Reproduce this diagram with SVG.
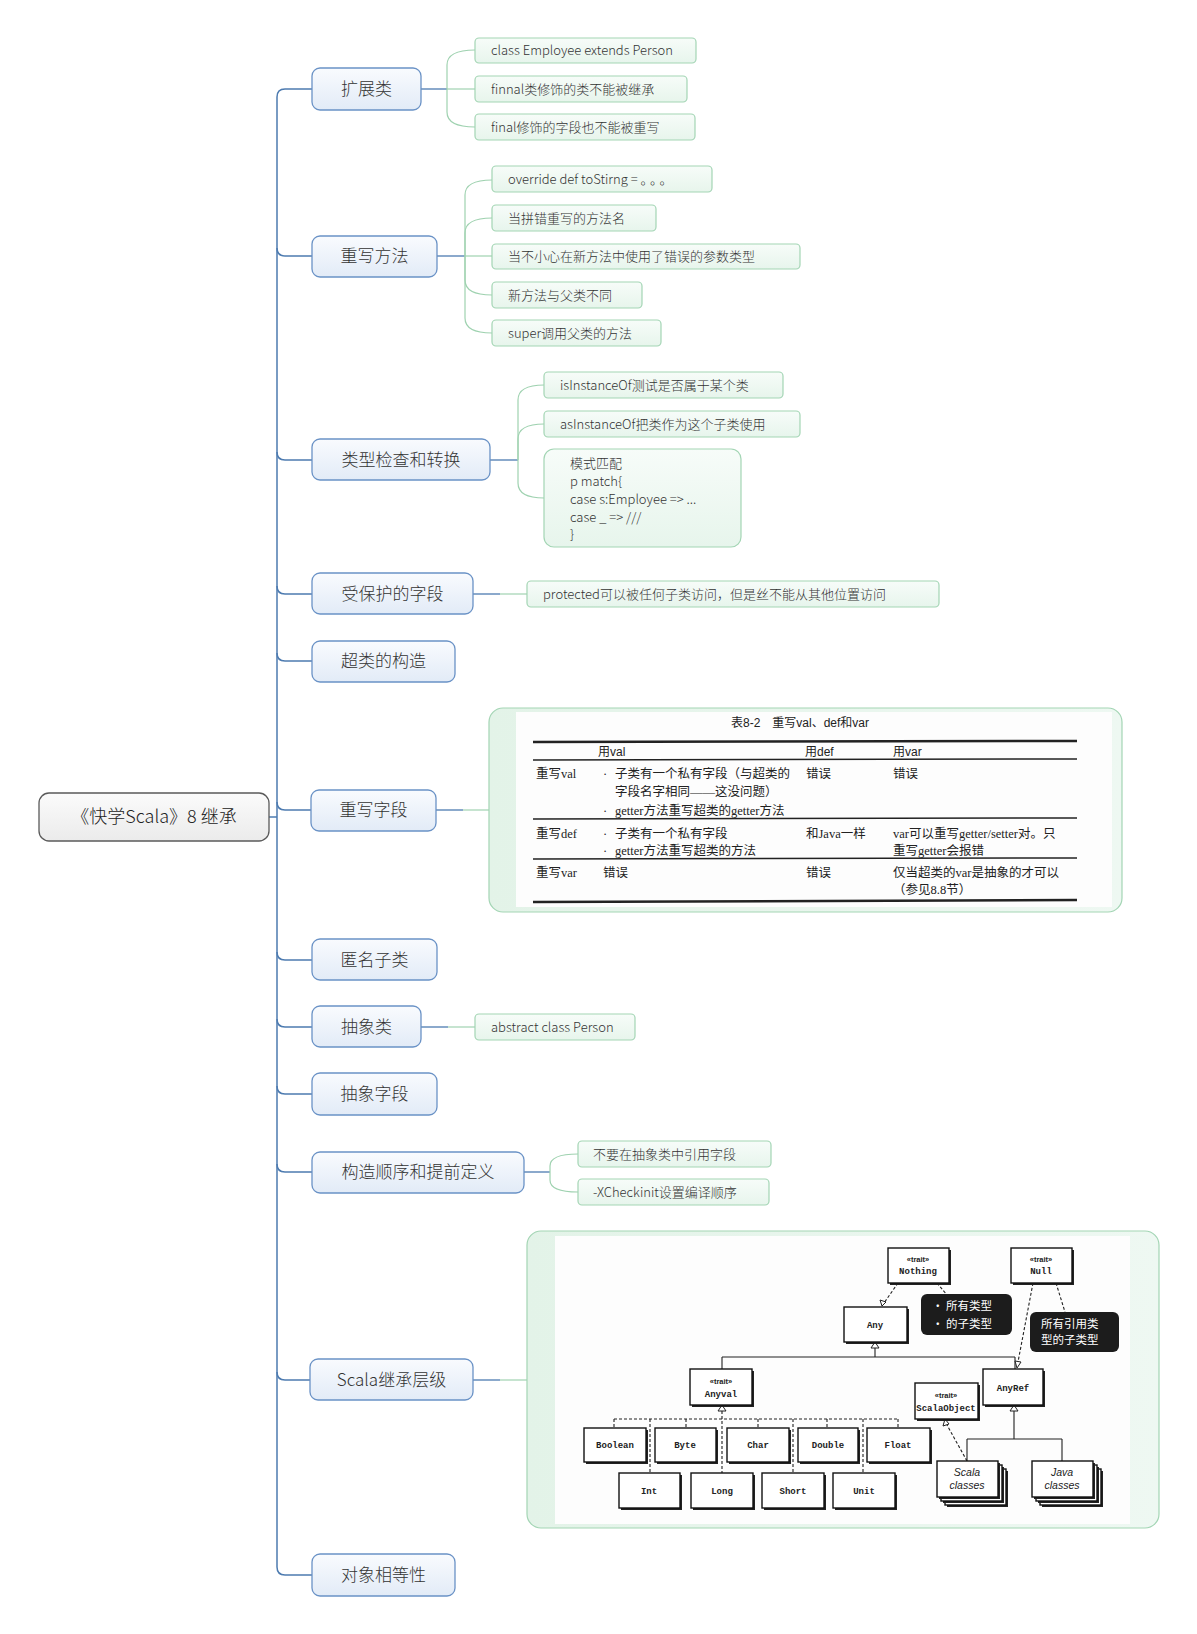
<svg xmlns="http://www.w3.org/2000/svg" width="1197" height="1634" viewBox="0 0 1197 1634">
<defs>
<linearGradient id="mainGrad" x1="0" y1="0" x2="0" y2="1"><stop offset="0" stop-color="#f9fbfe"/><stop offset="1" stop-color="#e2ebf7"/></linearGradient>
<linearGradient id="rootGrad" x1="0" y1="0" x2="0" y2="1"><stop offset="0" stop-color="#fbfbfb"/><stop offset="1" stop-color="#ebebeb"/></linearGradient>
<linearGradient id="subGrad" x1="0" y1="0" x2="0" y2="1"><stop offset="0" stop-color="#f7fcf9"/><stop offset="1" stop-color="#e7f5ec"/></linearGradient>
<linearGradient id="picGrad" x1="0" y1="0" x2="1" y2="0"><stop offset="0" stop-color="#e3f3e8"/><stop offset="1" stop-color="#eef8f2"/></linearGradient>
<style>
text{font-family:"Noto Sans CJK SC","Noto Sans",sans-serif;fill:#333}
.root rect{fill:url(#rootGrad);stroke:#5a5a5a;stroke-width:1.3}
.root text{font-size:18px;text-anchor:middle;fill:#222;font-weight:300}
.main rect{fill:url(#mainGrad);stroke:#6a92c6;stroke-width:1.3}
.main text{font-size:17px;text-anchor:middle;font-weight:300}
.sub rect{fill:url(#subGrad);stroke:#a3d5b4;stroke-width:1.2}
.sub text{font-size:13px;font-weight:300}
.trunk{stroke:#4d7bb0;stroke-width:1.5;fill:none}
.blue{stroke:#4d7bb0;stroke-width:1.3;fill:none}
.green{stroke:#9fd2b0;stroke-width:1.2;fill:none}
.pic{fill:url(#picGrad);stroke:#a3d5b4;stroke-width:1.2}
.tbl text{font-family:"Liberation Serif","Noto Sans CJK SC",serif;font-size:12.5px;fill:#222}
.tbl .hd{font-family:"Liberation Sans","Noto Sans CJK SC",sans-serif;font-size:12px}
.tl{stroke:#222;fill:none}
.ub rect.s{fill:#222;stroke:none}
.ub rect.f{fill:#fff;stroke:#111;stroke-width:1.4}
.ub text{font-family:"Liberation Mono","DejaVu Sans Mono",monospace;font-size:9px;font-weight:bold;text-anchor:middle;fill:#222}
.ub text.tr{font-family:"Liberation Sans",sans-serif;font-size:7.5px}
.ub text.it{font-family:"Liberation Sans",sans-serif;font-style:italic;font-size:10.5px;font-weight:normal}
.ul{stroke:#222;stroke-width:1.1;fill:none}
.ud{stroke:#222;stroke-width:1.1;fill:none;stroke-dasharray:3 2}
.tri{fill:#fff;stroke:#222;stroke-width:1}
.call rect{fill:#1c1c1c}
.call text{fill:#fff;font-size:11.5px}
</style>
</defs>
<rect width="1197" height="1634" fill="#ffffff"/>

<g id="connectors">
<path class="trunk" d="M269,817 H277"/>
<path class="trunk" d="M312,89 H285 Q277,89 277,97 V1567 Q277,1575 285,1575 H312"/>
<path class="trunk" d="M277,248 Q277,256 285,256 H312"/>
<path class="trunk" d="M277,452 Q277,460 285,460 H312"/>
<path class="trunk" d="M277,586 Q277,594 285,594 H312"/>
<path class="trunk" d="M277,653 Q277,661 285,661 H312"/>
<path class="trunk" d="M277,802 Q277,810 285,810 H311"/>
<path class="trunk" d="M277,952 Q277,960 285,960 H312"/>
<path class="trunk" d="M277,1019 Q277,1027 285,1027 H312"/>
<path class="trunk" d="M277,1086 Q277,1094 285,1094 H312"/>
<path class="trunk" d="M277,1164 Q277,1172 285,1172 H312"/>
<path class="trunk" d="M277,1372 Q277,1380 285,1380 H310"/>

<path class="blue" d="M421,89 H447"/>
<path class="green" d="M447,89 V65 Q447,50 475,50"/>
<path class="green" d="M447,89 H475"/>
<path class="green" d="M447,89 V112 Q447,127 475,127"/>

<path class="blue" d="M437,256 H465"/>
<path class="green" d="M465,256 V195 Q465,180 492,180"/>
<path class="green" d="M465,256 V233 Q465,218 492,218"/>
<path class="green" d="M465,256 H492"/>
<path class="green" d="M465,256 V280 Q465,295 492,295"/>
<path class="green" d="M465,256 V318 Q465,333 492,333"/>

<path class="blue" d="M490,460 H518"/>
<path class="green" d="M518,460 V400 Q518,385 544,385"/>
<path class="green" d="M518,460 V439 Q518,424 544,424"/>
<path class="green" d="M518,460 V483 Q518,498 544,498"/>

<path class="blue" d="M473,594 H500"/>
<path class="green" d="M500,594 H527"/>

<path class="blue" d="M436,810 H463"/>
<path class="green" d="M463,810 H489"/>

<path class="blue" d="M421,1027 H448"/>
<path class="green" d="M448,1027 H475"/>

<path class="blue" d="M524,1172 H550"/>
<path class="green" d="M550,1172 V1166 Q550,1154 578,1154"/>
<path class="green" d="M550,1172 V1180 Q550,1192 578,1192"/>

<path class="blue" d="M473,1380 H500"/>
<path class="green" d="M500,1380 H527"/>
</g>

<g id="root" class="root"><rect x="39" y="793" width="230" height="48" rx="10"/><text x="154" y="823">《快学Scala》8 继承</text></g>

<g id="n-extend" class="main"><rect x="312" y="68" width="109" height="42" rx="8"/><text x="366.5" y="95">扩展类</text></g>
<g id="n-override-method" class="main"><rect x="312" y="236" width="125" height="41" rx="8"/><text x="374.5" y="262">重写方法</text></g>
<g id="n-typecheck" class="main"><rect x="312" y="439" width="178" height="41" rx="8"/><text x="401" y="466">类型检查和转换</text></g>
<g id="n-protected" class="main"><rect x="312" y="573" width="161" height="41" rx="8"/><text x="392.5" y="600">受保护的字段</text></g>
<g id="n-superctor" class="main"><rect x="312" y="641" width="143" height="41" rx="8"/><text x="383.5" y="667">超类的构造</text></g>
<g id="n-override-field" class="main"><rect x="311" y="790" width="125" height="41" rx="8"/><text x="373.5" y="816">重写字段</text></g>
<g id="n-anon" class="main"><rect x="312" y="939" width="125" height="41" rx="8"/><text x="374.5" y="966">匿名子类</text></g>
<g id="n-abstract-class" class="main"><rect x="312" y="1006" width="109" height="41" rx="8"/><text x="366.5" y="1033">抽象类</text></g>
<g id="n-abstract-field" class="main"><rect x="312" y="1073" width="125" height="42" rx="8"/><text x="374.5" y="1100">抽象字段</text></g>
<g id="n-ctor-order" class="main"><rect x="312" y="1152" width="212" height="41" rx="8"/><text x="418" y="1178">构造顺序和提前定义</text></g>
<g id="n-hierarchy" class="main"><rect x="310" y="1359" width="163" height="41" rx="8"/><text x="391.5" y="1386">Scala继承层级</text></g>
<g id="n-equality" class="main"><rect x="312" y="1554" width="143" height="42" rx="8"/><text x="383.5" y="1581">对象相等性</text></g>

<g id="s1" class="sub"><rect x="475" y="38" width="221" height="25" rx="4"/><text x="491" y="55">class Employee extends Person</text></g>
<g id="s2" class="sub"><rect x="475" y="76" width="212" height="26" rx="4"/><text x="491" y="94">finnal类修饰的类不能被继承</text></g>
<g id="s3" class="sub"><rect x="475" y="114" width="220" height="26" rx="4"/><text x="491" y="132">final修饰的字段也不能被重写</text></g>

<g id="s4" class="sub"><rect x="492" y="166" width="220" height="26" rx="4"/><text x="508" y="184">override def toStirng = <tspan letter-spacing="3">。。。</tspan></text></g>
<g id="s5" class="sub"><rect x="492" y="205" width="164" height="26" rx="4"/><text x="508" y="223">当拼错重写的方法名</text></g>
<g id="s6" class="sub"><rect x="492" y="244" width="308" height="25" rx="4"/><text x="508" y="261">当不小心在新方法中使用了错误的参数类型</text></g>
<g id="s7" class="sub"><rect x="492" y="282" width="150" height="26" rx="4"/><text x="508" y="300">新方法与父类不同</text></g>
<g id="s8" class="sub"><rect x="492" y="320" width="169" height="26" rx="4"/><text x="508" y="338">super调用父类的方法</text></g>

<g id="s9" class="sub"><rect x="544" y="372" width="239" height="26" rx="4"/><text x="560" y="390">isInstanceOf测试是否属于某个类</text></g>
<g id="s10" class="sub"><rect x="544" y="411" width="256" height="26" rx="4"/><text x="560" y="429">asInstanceOf把类作为这个子类使用</text></g>
<g id="s11" class="sub"><rect x="544" y="449" width="197" height="98" rx="10"/>
<text x="570" y="468">模式匹配</text><text x="570" y="486">p match{</text><text x="570" y="504">case s:Employee =&gt; ...</text><text x="570" y="522">case _ =&gt; ///</text><text x="570" y="539">}</text></g>

<g id="s12" class="sub"><rect x="527" y="581" width="412" height="26" rx="4"/><text x="543" y="599">protected可以被任何子类访问，但是丝不能从其他位置访问</text></g>

<g id="s13" class="sub"><rect x="475" y="1014" width="160" height="26" rx="4"/><text x="491" y="1032">abstract class Person</text></g>

<g id="s14" class="sub"><rect x="578" y="1141" width="193" height="26" rx="4"/><text x="593" y="1159">不要在抽象类中引用字段</text></g>
<g id="s15" class="sub"><rect x="578" y="1179" width="191" height="26" rx="4"/><text x="593" y="1197">-XCheckinit设置编译顺序</text></g>

<g id="table" class="tbl">
<rect class="pic" x="489" y="708" width="633" height="204" rx="14"/>
<rect x="516" y="712" width="596" height="195" fill="#fdfdfd"/>
<text class="hd" x="800" y="727" text-anchor="middle">表8-2　重写val、def和var</text>
<line class="tl" x1="533" y1="742" x2="1077" y2="741" stroke-width="2.5"/>
<text class="hd" x="598" y="756">用val</text>
<text class="hd" x="805" y="756">用def</text>
<text class="hd" x="893" y="756">用var</text>
<line class="tl" x1="533" y1="760" x2="1077" y2="759" stroke-width="1.5"/>
<text x="536" y="778">重写val</text>
<text x="603" y="778">·</text>
<text x="615" y="778">子类有一个私有字段（与超类的</text>
<text x="806" y="778">错误</text>
<text x="893" y="778">错误</text>
<text x="615" y="796">字段名字相同——这没问题）</text>
<text x="603" y="815">·</text>
<text x="615" y="815">getter方法重写超类的getter方法</text>
<line class="tl" x1="533" y1="819" x2="1077" y2="818" stroke-width="1.5"/>
<text x="536" y="838">重写def</text>
<text x="603" y="838">·</text>
<text x="615" y="838">子类有一个私有字段</text>
<text x="806" y="838">和Java一样</text>
<text x="893" y="838">var可以重写getter/setter对。只</text>
<text x="603" y="855">·</text>
<text x="615" y="855">getter方法重写超类的方法</text>
<text x="893" y="855">重写getter会报错</text>
<line class="tl" x1="533" y1="859" x2="1077" y2="858" stroke-width="1.5"/>
<text x="536" y="877">重写var</text>
<text x="603" y="877">错误</text>
<text x="806" y="877">错误</text>
<text x="893" y="877">仅当超类的var是抽象的才可以</text>
<text x="893" y="894">（参见8.8节）</text>
<line class="tl" x1="533" y1="902" x2="1077" y2="900" stroke-width="2.5"/>
</g>

<g id="hierarchy">
<rect class="pic" x="527" y="1231" width="632" height="297" rx="14"/>
<rect x="555" y="1236" width="575" height="288" fill="#fdfdfd"/>

<g id="uml-lines">
<path class="ul" d="M875,1348 V1357 M722,1357 H1015 M722,1357 V1369 M1015,1357 V1369"/>
<path class="ud" d="M898,1283 L884,1303"/>
<path class="ud" d="M937,1283 L947,1295"/>
<path class="ud" d="M1033,1283 L1018,1362"/>
<path class="ud" d="M1056,1283 L1065,1312"/>
<path class="ud" d="M722,1411 V1473 M614,1419 H898 M614,1419 V1428 M686,1419 V1428 M758,1419 V1428 M827,1419 V1428 M898,1419 V1428 M650,1419 V1473 M793,1419 V1473 M863,1419 V1473"/>
<path class="ul" d="M1014,1411 V1439 M967,1439 H1062 M967,1439 V1461 M1062,1439 V1461"/>
<path class="ud" d="M967,1461 L947,1425"/>
<polygon class="tri" points="875,1342 871,1348 879,1348"/>
<polygon class="tri" points="882,1306 880,1300 886,1302"/>
<polygon class="tri" points="1017,1368 1015,1361 1021,1362"/>
<polygon class="tri" points="722,1405 718,1411 726,1411"/>
<polygon class="tri" points="1014,1405 1010,1411 1018,1411"/>
<polygon class="tri" points="945,1419 943,1426 949,1424"/>
</g>

<g id="u-nothing" class="ub"><rect class="s" x="890" y="1250" width="61" height="35"/><rect class="f" x="888" y="1248" width="61" height="35"/><text class="tr" x="918" y="1262">«trait»</text><text x="918" y="1274">Nothing</text></g>
<g id="u-null" class="ub"><rect class="s" x="1013" y="1250" width="61" height="35"/><rect class="f" x="1011" y="1248" width="61" height="35"/><text class="tr" x="1041" y="1262">«trait»</text><text x="1041" y="1274">Null</text></g>
<g id="u-any" class="ub"><rect class="s" x="846" y="1309" width="63" height="35"/><rect class="f" x="844" y="1307" width="63" height="35"/><text x="875" y="1328">Any</text></g>
<g id="u-call1" class="call"><rect x="921" y="1294" width="91" height="41" rx="6"/><text x="932" y="1310">• 所有类型</text><text x="932" y="1328">• 的子类型</text></g>
<g id="u-call2" class="call"><rect x="1030" y="1312" width="89" height="40" rx="6"/><text x="1041" y="1328">所有引用类</text><text x="1041" y="1344">型的子类型</text></g>
<g id="u-anyval" class="ub"><rect class="s" x="692" y="1371" width="62" height="36"/><rect class="f" x="690" y="1369" width="62" height="36"/><text class="tr" x="721" y="1384">«trait»</text><text x="721" y="1397">Anyval</text></g>
<g id="u-anyref" class="ub"><rect class="s" x="985" y="1371" width="60" height="36"/><rect class="f" x="983" y="1369" width="60" height="36"/><text x="1013" y="1391">AnyRef</text></g>
<g id="u-scalaobject" class="ub"><rect class="s" x="917" y="1385" width="63" height="36"/><rect class="f" x="915" y="1383" width="63" height="36"/><text class="tr" x="946" y="1398">«trait»</text><text x="946" y="1411">ScalaObject</text></g>
<g id="u-boolean" class="ub"><rect class="s" x="586" y="1430" width="62" height="34"/><rect class="f" x="584" y="1428" width="62" height="34"/><text x="615" y="1448">Boolean</text></g>
<g id="u-byte" class="ub"><rect class="s" x="657" y="1430" width="61" height="34"/><rect class="f" x="655" y="1428" width="61" height="34"/><text x="685" y="1448">Byte</text></g>
<g id="u-char" class="ub"><rect class="s" x="729" y="1430" width="62" height="34"/><rect class="f" x="727" y="1428" width="62" height="34"/><text x="758" y="1448">Char</text></g>
<g id="u-double" class="ub"><rect class="s" x="800" y="1430" width="60" height="34"/><rect class="f" x="798" y="1428" width="60" height="34"/><text x="828" y="1448">Double</text></g>
<g id="u-float" class="ub"><rect class="s" x="869" y="1430" width="63" height="34"/><rect class="f" x="867" y="1428" width="63" height="34"/><text x="898" y="1448">Float</text></g>
<g id="u-int" class="ub"><rect class="s" x="621" y="1475" width="61" height="35"/><rect class="f" x="619" y="1473" width="61" height="35"/><text x="649" y="1494">Int</text></g>
<g id="u-long" class="ub"><rect class="s" x="693" y="1475" width="62" height="35"/><rect class="f" x="691" y="1473" width="62" height="35"/><text x="722" y="1494">Long</text></g>
<g id="u-short" class="ub"><rect class="s" x="764" y="1475" width="62" height="35"/><rect class="f" x="762" y="1473" width="62" height="35"/><text x="793" y="1494">Short</text></g>
<g id="u-unit" class="ub"><rect class="s" x="835" y="1475" width="62" height="35"/><rect class="f" x="833" y="1473" width="62" height="35"/><text x="864" y="1494">Unit</text></g>
<g id="u-scala-classes" class="ub">
<rect class="s" x="947" y="1471" width="61" height="36"/><rect class="f" x="945" y="1469" width="61" height="36"/>
<rect class="s" x="943" y="1467" width="61" height="36"/><rect class="f" x="941" y="1465" width="61" height="36"/>
<rect class="s" x="939" y="1463" width="61" height="36"/><rect class="f" x="937" y="1461" width="61" height="36"/>
<text class="it" x="967" y="1476">Scala</text><text class="it" x="967" y="1489">classes</text></g>
<g id="u-java-classes" class="ub">
<rect class="s" x="1042" y="1471" width="61" height="36"/><rect class="f" x="1040" y="1469" width="61" height="36"/>
<rect class="s" x="1038" y="1467" width="61" height="36"/><rect class="f" x="1036" y="1465" width="61" height="36"/>
<rect class="s" x="1034" y="1463" width="61" height="36"/><rect class="f" x="1032" y="1461" width="61" height="36"/>
<text class="it" x="1062" y="1476">Java</text><text class="it" x="1062" y="1489">classes</text></g>
</g>
</svg>
